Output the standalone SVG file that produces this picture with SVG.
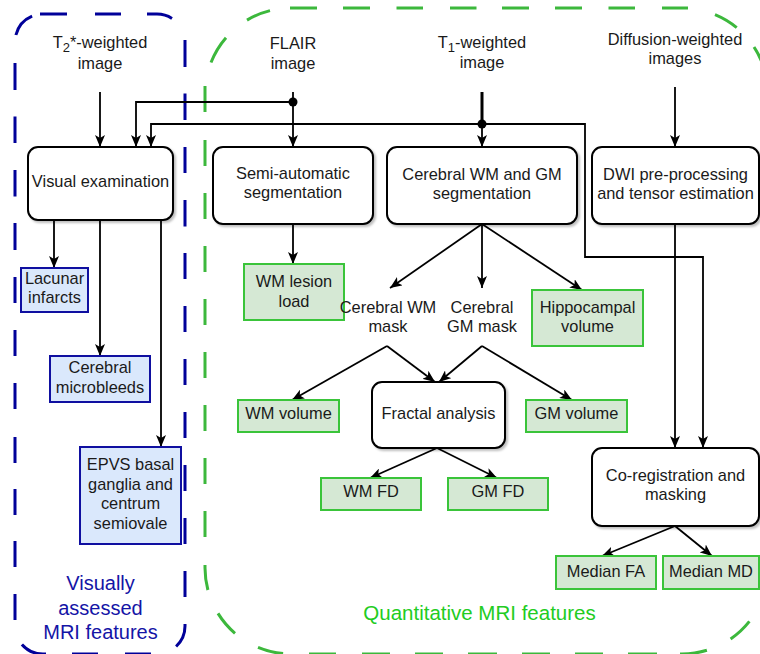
<svg xmlns="http://www.w3.org/2000/svg" width="760" height="654" viewBox="0 0 760 654">
<style>
text{font-family:"Liberation Sans",Arial,sans-serif;font-size:16.4px;fill:#1a1a1a;text-anchor:middle}
.bx{fill:#fff;stroke:#000;stroke-width:2}
.bl{fill:#dae8fc;stroke:#0f0fa0;stroke-width:2}
.gr{fill:#d5e8d4;stroke:#3ac43a;stroke-width:2}
.c{fill:none;stroke:#000;stroke-width:1.8}
.c2{fill:none;stroke:#000;stroke-width:1.8;marker-end:url(#ar)}
.lbl-b{font-size:20px;fill:#1414a6}
.lbl-g{font-size:20.5px;fill:#22cc22}
</style>
<defs>
<marker id="ar" viewBox="0 0 12 10" refX="12" refY="5" markerWidth="12" markerHeight="10" markerUnits="userSpaceOnUse" orient="auto">
<path d="M0,0 L12,5 L0,10 L3,5 Z" fill="#000"/>
</marker>
<filter id="sh" x="-10%" y="-10%" width="130%" height="130%">
<feDropShadow dx="2" dy="2" stdDeviation="1" flood-color="#000" flood-opacity="0.25"/>
</filter>
</defs>
<rect width="760" height="654" fill="#fff"/>
<g id="group-visual">
<path fill="none" stroke="#000099" stroke-width="3" d="M15.9,35 A28,28 0 0 1 32.1,16.2 M40,14 H67 M95,14 H121 M147,14 H157 A28,28 0 0 1 172,18.4 M185,40 V67 M185,93.5 V120 M185,147 V173 M185,200 V226.5 M185,253 V279 M185,306 V332 M185,359 V385 M185,412 V438 M185,465 V491 M185,518 V544 M185,571 V597 M185,624 V626 A28,28 0 0 1 176.1,646.5 M151,654 H125 M98,654 H72 M46,654 H43 A28,28 0 0 1 21.9,644.4 M15,620 V594 M15,567 V541 M15,515 V489 M15,463 V437 M15,409 V383 M15,356 V330 M15,303 V277 M15,250 V223 M15,196.5 V170 M15,143 V116.5 M15,90 V63"/>
<text class="lbl-b" x="100.5" y="590">Visually</text>
<text class="lbl-b" x="100.5" y="615">assessed</text>
<text class="lbl-b" x="100.5" y="639">MRI features</text>
</g>
<g id="group-quant">
<path fill="none" stroke="#3cb83c" stroke-width="3" d="M211,62.5 A86,86 0 0 1 226,37.7 M247,20.1 A86,86 0 0 1 270,10.6 M290,8 H317 M343,8 H370 M396.5,8 H423 M450,8 H476.5 M502,8 H529 M555,8 H582 M608.5,8 H635 M662,8 H688 M715,14.6 A86,86 0 0 1 736.7,27.6 M754,47 A86,86 0 0 1 764.5,69.7 M749.4,621.4 A86,86 0 0 1 730.6,639 M706.9,650.3 A86,86 0 0 1 682,654 H680 M657,654 H628 M603,654 H575 M550,654 H522 M497,654 H468 M443,654 H415 M390,654 H362 M336,654 H309 M283.1,653.6 A86,86 0 0 1 258,647.4 M235,633.3 A86,86 0 0 1 218,613.4 M207.9,590 A86,86 0 0 1 205,568 V565 M205,537 V511 M205,484 V458 M205,431 V405 M205,378 V352 M205,325 V299 M205,272 V246 M205,219 V193 M205,166 V140 M205,112 V86"/>
<text class="lbl-g" x="479.5" y="620">Quantitative MRI features</text>
</g>
<g id="connectors">
<path class="c2" d="M100,92 L100,147"/>
<path class="c2" d="M293,92 L293,147"/>
<path class="c2" d="M293,102 L136,102 L136,147"/>
<path class="c" d="M482,92 L482,124" style="stroke-width:3"/>
<path class="c2" d="M482,124 L482,147"/>
<path class="c2" d="M482,124 L151,124 L151,147"/>
<path class="c2" d="M482,124 L585,124 L585,257 L703,257 L703,448"/>
<circle cx="293" cy="102" r="4.5" fill="#000"/>
<circle cx="482" cy="124" r="4.5" fill="#000"/>
<path class="c2" d="M675,87 L675,147"/>
<path class="c2" d="M675,224 L675,448"/>
<path class="c2" d="M54,220 L54,268"/>
<path class="c2" d="M100,220 L100,356"/>
<path class="c2" d="M161,220 L161,447"/>
<path class="c2" d="M293,224 L293,264"/>
<path class="c2" d="M482,224 L390,288"/>
<path class="c2" d="M482,224 L482,288"/>
<path class="c2" d="M482,224 L582,290"/>
<path class="c2" d="M387,346 L292,400"/>
<path class="c2" d="M387,346 L435,382"/>
<path class="c2" d="M482,346 L439,382"/>
<path class="c2" d="M482,346 L572,400"/>
<path class="c2" d="M437,448 L370,478"/>
<path class="c2" d="M437,448 L497,478"/>
<path class="c2" d="M675,526 L602,556"/>
<path class="c2" d="M675,526 L712,556"/>
</g>
<g id="t2-image">
<text x="100" y="48">T<tspan style="font-size:13px" dy="4">2</tspan><tspan dy="-4">*-weighted</tspan></text>
<text x="100" y="69">image</text>
</g>
<g id="flair-image">
<text x="293" y="49">FLAIR</text>
<text x="293" y="69">image</text>
</g>
<g id="t1-image">
<text x="482" y="48">T<tspan style="font-size:13px" dy="4">1</tspan><tspan dy="-4">-weighted</tspan></text>
<text x="482" y="68">image</text>
</g>
<g id="dwi-images">
<text x="675" y="44.5">Diffusion-weighted</text>
<text x="675" y="63.5">images</text>
</g>
<g id="visual-exam">
<rect class="bx" x="28" y="147" width="145" height="73" rx="10" filter="url(#sh)"/>
<text x="100.5" y="187">Visual examination</text>
</g>
<g id="semi-seg">
<rect class="bx" x="213" y="147" width="160" height="77" rx="10" filter="url(#sh)"/>
<text x="293" y="179">Semi-automatic</text>
<text x="293" y="198">segmentation</text>
</g>
<g id="wmgm-seg">
<rect class="bx" x="387" y="147" width="190" height="77" rx="10" filter="url(#sh)"/>
<text x="482" y="180">Cerebral WM and GM</text>
<text x="482" y="199">segmentation</text>
</g>
<g id="dwi-proc">
<rect class="bx" x="592" y="147" width="167" height="77" rx="10" filter="url(#sh)"/>
<text x="675.5" y="180">DWI pre-processing</text>
<text x="675.5" y="199">and tensor estimation</text>
</g>
<g id="lacunar">
<rect class="bl" x="21" y="268" width="67" height="44"/>
<text x="54.5" y="284">Lacunar</text>
<text x="54.5" y="303">infarcts</text>
</g>
<g id="microbleeds">
<rect class="bl" x="50" y="356" width="100" height="46"/>
<text x="100" y="373">Cerebral</text>
<text x="100" y="393">microbleeds</text>
</g>
<g id="epvs">
<rect class="bl" x="80" y="447" width="101" height="97"/>
<text x="130.5" y="470">EPVS basal</text>
<text x="130.5" y="489.5">ganglia and</text>
<text x="130.5" y="509">centrum</text>
<text x="130.5" y="528.5">semiovale</text>
</g>
<g id="wm-lesion">
<rect class="gr" x="244" y="264" width="100" height="56"/>
<text x="294" y="287">WM lesion</text>
<text x="294" y="307">load</text>
</g>
<g id="wm-mask">
<text x="388" y="313">Cerebral WM</text>
<text x="388" y="332">mask</text>
</g>
<g id="gm-mask">
<text x="482" y="313">Cerebral</text>
<text x="482" y="332">GM mask</text>
</g>
<g id="hippocampal">
<rect class="gr" x="532" y="290" width="111" height="56"/>
<text x="587.5" y="313">Hippocampal</text>
<text x="587.5" y="332">volume</text>
</g>
<g id="wm-volume">
<rect class="gr" x="238" y="400" width="101" height="32"/>
<text x="288.5" y="419">WM volume</text>
</g>
<g id="fractal">
<rect class="bx" x="372" y="382" width="133" height="66" rx="10" filter="url(#sh)"/>
<text x="438.5" y="419">Fractal analysis</text>
</g>
<g id="gm-volume">
<rect class="gr" x="526" y="400" width="101" height="32"/>
<text x="576.5" y="419">GM volume</text>
</g>
<g id="wm-fd">
<rect class="gr" x="321" y="478" width="100" height="32"/>
<text x="371" y="497">WM FD</text>
</g>
<g id="gm-fd">
<rect class="gr" x="448" y="478" width="100" height="32"/>
<text x="498" y="497">GM FD</text>
</g>
<g id="coreg">
<rect class="bx" x="592" y="448" width="167" height="78" rx="10" filter="url(#sh)"/>
<text x="675.5" y="481">Co-registration and</text>
<text x="675.5" y="500">masking</text>
</g>
<g id="median-fa">
<rect class="gr" x="556" y="556" width="100" height="33"/>
<text x="606" y="577">Median FA</text>
</g>
<g id="median-md">
<rect class="gr" x="663" y="556" width="96" height="33"/>
<text x="711" y="577">Median MD</text>
</g>
</svg>
